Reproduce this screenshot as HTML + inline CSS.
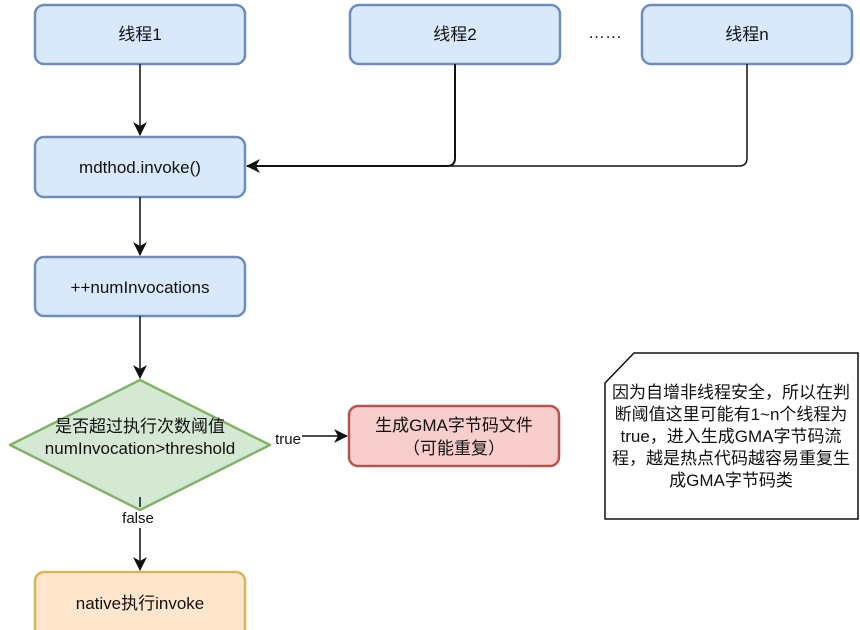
<!DOCTYPE html><html><head><meta charset="utf-8"><style>body{margin:0;background:#fff}svg{display:block}text{font-family:"Liberation Sans","Noto Sans CJK SC",sans-serif;font-size:17px;fill:#111}</style></head><body>
<svg width="860" height="630" viewBox="0 0 860 630">
<defs><marker id="a" markerWidth="14" markerHeight="14" refX="13" refY="7" orient="auto" markerUnits="userSpaceOnUse"><path d="M0,0 L14,7 L0,14 L4,7 z" fill="#111"/></marker></defs>
<g stroke="#6c8ebf" stroke-width="2.5" fill="#dae8fc">
<rect x="35" y="5" width="210" height="59" rx="9"/>
<rect x="350" y="5" width="210" height="59" rx="9"/>
<rect x="642" y="5" width="210" height="59" rx="9"/>
<rect x="35" y="137" width="210" height="60" rx="9"/>
<rect x="35" y="257" width="210" height="59" rx="9"/>
</g>
<polygon points="140,380 270,445 140,510 10,445" fill="#d5e8d4" stroke="#82b366" stroke-width="2.5" stroke-linejoin="round"/>
<rect x="349" y="406" width="210" height="60" rx="9" fill="#f8cecc" stroke="#b85450" stroke-width="2.5"/>
<rect x="35" y="572" width="210" height="70" rx="9" fill="#ffe6cc" stroke="#d6b656" stroke-width="2.5"/>
<path d="M634,353 L858,353 L858,519 L605,519 L605,383 Z" fill="#fff" stroke="#111" stroke-width="1.5"/>
<g stroke="#111" stroke-width="1.5" fill="none">
<path d="M140,64 V135" marker-end="url(#a)"/>
<path d="M140,197 V255" marker-end="url(#a)"/>
<path d="M140,316 V378" marker-end="url(#a)"/>
<path d="M455,64 V158 Q455,166 447,166 H247" marker-end="url(#a)" stroke-width="2"/>
<path d="M747,64 V158 Q747,166 739,166 H450"/>
<path d="M302,436 H347" marker-end="url(#a)"/>
<path d="M140,497 V507 M140,528 V570" marker-end="url(#a)"/>
</g>
<g text-anchor="middle">
<text x="140" y="40">线程1</text><text x="455" y="40">线程2</text><text x="747" y="40">线程n</text>
<text x="605" y="38">……</text>
<text x="140" y="173">mdthod.invoke()</text>
<text x="140" y="293">++numInvocations</text>
<text x="140" y="432">是否超过执行次数阈值</text>
<text x="140" y="454">numInvocation&gt;threshold</text>
<text x="288" y="444" style="font-size:15px">true</text>
<text x="138" y="523" style="font-size:15px">false</text>
<text x="454" y="431">生成GMA字节码文件</text>
<text x="454" y="454">（可能重复）</text>
<text x="140" y="609">native执行invoke</text>
<g style="font-size:16.5px"><text x="731" y="398">因为自增非线程安全，所以在判</text>
<text x="731" y="420">断阈值这里可能有1~n个线程为</text>
<text x="731" y="442">true，进入生成GMA字节码流</text>
<text x="731" y="464">程，越是热点代码越容易重复生</text>
<text x="731" y="486">成GMA字节码类</text></g>
</g>
</svg></body></html>
